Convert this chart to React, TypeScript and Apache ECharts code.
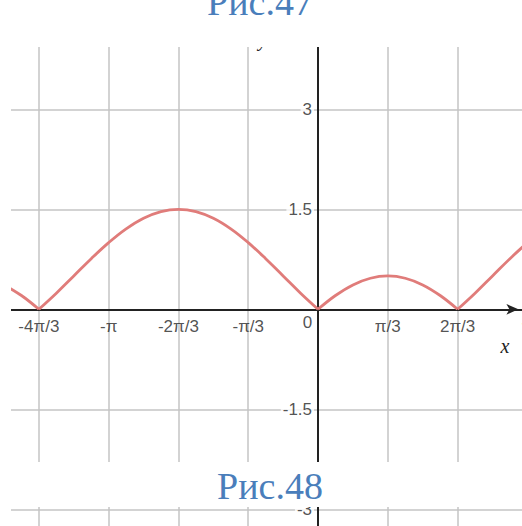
import React, { useEffect, useRef } from "react";
import * as echarts from "echarts";

// x in units of π/3
const xValues = [
  -4.5, -4.25, -4, -3.75, -3.5, -3.25, -3, -2.75, -2.5, -2.25, -2, -1.75, -1.5, -1.25, -1, -0.75,
  -0.5, -0.25, 0, 0.25, 0.5, 0.75, 1, 1.25, 1.5, 1.75, 2, 2.25, 2.5, 2.75, 3,
];
const yValues = [
  0.366, 0.207, 0, 0.241, 0.5, 0.759, 1.0, 1.207, 1.366, 1.466, 1.5, 1.466, 1.366, 1.207, 1.0, 0.759,
  0.5, 0.241, 0, 0.207, 0.366, 0.466, 0.5, 0.466, 0.366, 0.207, 0, 0.241, 0.5, 0.759, 1.0,
];

const xTickValues = [-4, -3, -2, -1, 0, 1, 2, 3];
const xTickLabels = ["-4π/3", "-π", "-2π/3", "-π/3", "0", "π/3", "2π/3", "π"];
const yTickValues = [3, 1.5, -1.5, -3];
const yTickLabels = ["3", "1.5", "-1.5", "-3"];

const captionTop = "Рис.47";
const captionBottom = "Рис.48";

const LINE_COLOR = "#e07c7a";
const GRID_COLOR = "#c4c4c4";
const AXIS_COLOR = "#222";
const LABEL_COLOR = "#262626";
const CAPTION_COLOR = "#4a7ebb";
const SANS = "'Liberation Sans', Arial, sans-serif";
const SERIF = "'Liberation Serif', 'Times New Roman', serif";

function buildSegments(): number[][][] {
  const segs: number[][][] = [];
  let cur: number[][] = [];
  for (let i = 0; i < xValues.length; i++) {
    const p = [xValues[i], yValues[i]];
    cur.push(p);
    if (yValues[i] === 0 && cur.length > 1) {
      segs.push(cur);
      cur = [p];
    }
  }
  if (cur.length > 1) segs.push(cur);
  return segs;
}

export default function App() {
  const ref = useRef<HTMLDivElement>(null);

  useEffect(() => {
    if (!ref.current) return;
    const chart = echarts.init(ref.current, null, { renderer: "svg" });
    const segments = buildSegments();

    const curveSeries = segments.map((seg) => ({
      type: "line",
      data: seg,
      smooth: 0.4,
      showSymbol: false,
      symbol: "none",
      silent: true,
      clip: true,
      z: 5,
      lineStyle: { color: LINE_COLOR, width: 2.8 },
    }));

    const xLabelSeries = {
      type: "scatter",
      silent: true,
      symbolSize: 0,
      z: 6,
      data: xTickValues.map((v, i) => ({
        value: [v, 0],
        label: {
          show: true,
          position: "bottom",
          distance: 9,
          formatter: xTickLabels[i],
          offset: v === 0 ? [-10.5, -4] : [0, 0],
          color: LABEL_COLOR,
          fontSize: 17,
          fontFamily: SANS,
        },
      })),
    };

    const yLabelSeries = {
      type: "scatter",
      silent: true,
      symbolSize: 0,
      z: 6,
      data: yTickValues.map((v, i) => ({
        value: [0, v],
        label: {
          show: true,
          position: "left",
          distance: 4,
          formatter: yTickLabels[i],
          color: LABEL_COLOR,
          fontSize: 17,
          fontFamily: SANS,
          backgroundColor: "#fff",
          padding: [0, 2],
        },
      })),
    };

    const option: any = {
      animation: false,
      backgroundColor: "#fff",
      grid: {
        left: -30.9,
        right: -5.4,
        top: 9.3,
        bottom: -83.3,
        containLabel: false,
        outerBoundsMode: "none",
      },
      xAxis: {
        type: "value",
        min: -5,
        max: 3,
        interval: 1,
        axisLine: {
          onZero: true,
          symbol: ["none", "arrow"],
          symbolSize: [8, 12],
          symbolOffset: [0, -9],
          lineStyle: { color: AXIS_COLOR, width: 2 },
        },
        axisTick: { show: false },
        axisLabel: { show: false },
        splitLine: { show: true, lineStyle: { color: GRID_COLOR, width: 1.5 } },
      },
      yAxis: {
        type: "value",
        min: -4.5,
        max: 4.5,
        interval: 1.5,
        axisLine: { onZero: true, lineStyle: { color: AXIS_COLOR, width: 2 } },
        axisTick: { show: false },
        axisLabel: { show: false },
        splitLine: { show: true, lineStyle: { color: GRID_COLOR, width: 1.5 } },
      },
      series: [...curveSeries, xLabelSeries, yLabelSeries],
      graphic: [
        {
          type: "text",
          x: 263,
          y: 39,
          z: 50,
          style: { text: "y", fontSize: 20, fontStyle: "italic", fontFamily: SERIF, fill: "#222", align: "center", verticalAlign: "middle" },
        },
        { type: "rect", z: 100, shape: { x: 0, y: 0, width: 11, height: 526 }, style: { fill: "#fff" } },
        { type: "rect", z: 100, shape: { x: 0, y: 0, width: 522, height: 47 }, style: { fill: "#fff" } },
        { type: "rect", z: 100, shape: { x: 0, y: 462, width: 522, height: 45 }, style: { fill: "#fff" } },
        {
          type: "text",
          x: 260,
          y: 2,
          z: 101,
          style: { text: captionTop, fontSize: 38, fontFamily: SERIF, fill: CAPTION_COLOR, align: "center", verticalAlign: "middle" },
        },
        {
          type: "text",
          x: 270,
          y: 486,
          z: 101,
          style: { text: captionBottom, fontSize: 38, fontFamily: SERIF, fill: CAPTION_COLOR, align: "center", verticalAlign: "middle" },
        },
        {
          type: "text",
          x: 505,
          y: 346,
          z: 101,
          style: { text: "x", fontSize: 20, fontStyle: "italic", fontFamily: SERIF, fill: "#222", align: "center", verticalAlign: "middle" },
        },
      ],
    };

    chart.setOption(option);
    return () => chart.dispose();
  }, []);

  return (
    <div
      ref={ref}
      style={{ position: "absolute", left: 0, top: 0, width: 522, height: 526 }}
    />
  );
}
